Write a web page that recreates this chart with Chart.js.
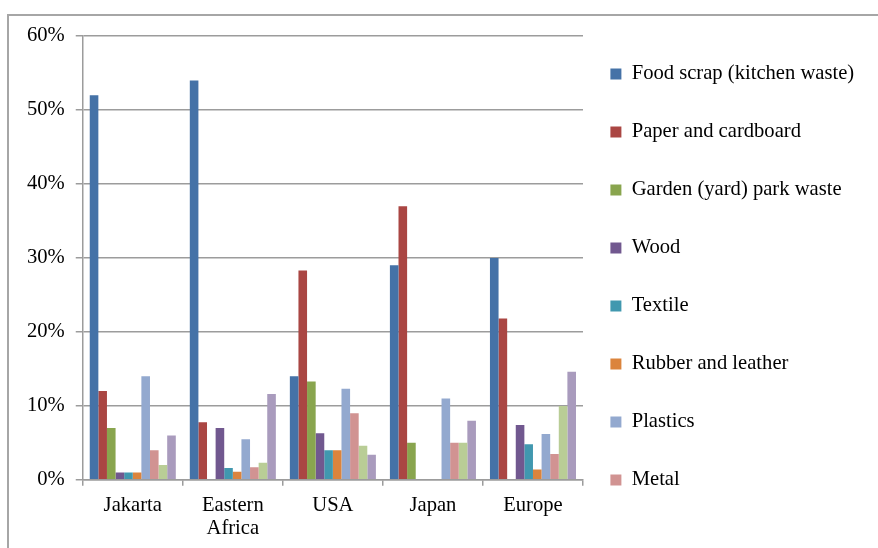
<!DOCTYPE html>
<html>
<head>
<meta charset="utf-8">
<script src="https://cdn.jsdelivr.net/npm/chart.js@4.4.1/dist/chart.umd.min.js"></script>
<style>
  html, body { margin: 0; padding: 0; background: #fff; }
  #wrap { position: relative; width: 878px; height: 548px; }
</style>
</head>
<body>
<div id="wrap"><canvas id="wasteChart" width="878" height="548"></canvas></div>
<script>
// --- dados ---
const categories = ['Jakarta', ['Eastern', 'Africa'], 'USA', 'Japan', 'Europe'];
const seriesNames = [
    'Food scrap (kitchen waste)', 'Paper and cardboard', 'Garden (yard) park waste',
    'Wood', 'Textile', 'Rubber and leather', 'Plastics', 'Metal', 'Glass', 'Other'
];
const food     = [52, 54, 14, 29, 30];
const paper    = [12, 7.8, 28.3, 37, 21.8];
const garden   = [7, 0, 13.3, 5, 0];
const wood     = [1, 7, 6.3, 0, 7.4];
const textile  = [1, 1.6, 4, 0, 4.8];
const rubber   = [1, 1.1, 4, 0, 1.4];
const plastics = [14, 5.5, 12.3, 11, 6.2];
const metal    = [4, 1.7, 9, 5, 3.5];
const glass    = [2, 2.3, 4.6, 5, 10];
const other    = [6, 11.6, 3.4, 8, 14.6];
const yTicks   = [0, 10, 20, 30, 40, 50, 60];

const colors = ['#4572A7', '#AA4643', '#89A54E', '#71588F', '#4198AF',
                '#DB843D', '#93A9CF', '#D19392', '#B9CD96', '#A99BBD'];
const allSeries = [food, paper, garden, wood, textile, rubber, plastics, metal, glass, other];

const FONT = "'Liberation Serif', 'Times New Roman', serif";
const FSIZE = 20.6;
const GRID = '#9c9c9c';

// moldura cinzenta (topo + esquerda) como no original
const framePlugin = {
    id: 'frame',
    beforeDraw(chart) {
        const ctx = chart.ctx;
        ctx.save();
        ctx.strokeStyle = '#a6a6a6';
        ctx.lineWidth = 2;
        ctx.beginPath();
        ctx.moveTo(8, 548);
        ctx.lineTo(8, 15);
        ctx.lineTo(878, 15);
        ctx.stroke();
        ctx.restore();
    }
};

// legenda: largura fixa e posição ajustada
const legendPlugin = {
    id: 'legendPlace',
    beforeInit(chart) {
        const fit = chart.legend.fit;
        chart.legend.fit = function () {
            fit.bind(chart.legend)();
            this.width = 878 - 583;
        };
    },
    afterLayout(chart) {
        const lg = chart.legend;
        lg.left = 611 - 38;
        lg.right = lg.left + lg.width;
        lg.top = 3;
        lg.bottom = 551;
    }
};

new Chart(document.getElementById('wasteChart'), {
    type: 'bar',
    data: {
        labels: categories,
        datasets: allSeries.map((vals, i) => ({
            label: seriesNames[i],
            data: vals,
            backgroundColor: colors[i],
            borderWidth: 0
        }))
    },
    options: {
        responsive: false,
        animation: false,
        layout: { padding: { top: 36, left: 16, right: 0, bottom: 0 } },
        datasets: { bar: { categoryPercentage: 0.86, barPercentage: 1 } },
        scales: {
            x: {
                grid: { drawOnChartArea: false, offset: true, color: GRID, lineWidth: 1.5, tickLength: 6 },
                border: { color: GRID, width: 1.5 },
                ticks: {
                    color: '#000', padding: 8, maxRotation: 0,
                    font: { family: FONT, size: FSIZE, lineHeight: 1.12 }
                }
            },
            y: {
                min: 0, max: 60,
                afterBuildTicks: axis => { axis.ticks = yTicks.map(v => ({ value: v })); },
                grid: { color: GRID, lineWidth: 1.5, tickLength: 7 },
                border: { color: GRID, width: 1.5 },
                ticks: {
                    color: '#000', padding: 11,
                    font: { family: FONT, size: FSIZE },
                    callback: v => v + '%'
                }
            }
        },
        plugins: {
            legend: {
                position: 'right',
                align: 'center',
                labels: {
                    boxWidth: 11, boxHeight: 11, padding: 58 - FSIZE, color: '#000',
                    font: { family: FONT, size: FSIZE },
                    filter: item => item.datasetIndex < 8
                }
            },
            tooltip: { enabled: false }
        }
    },
    plugins: [framePlugin, legendPlugin]
});
</script>
</body>
</html>
